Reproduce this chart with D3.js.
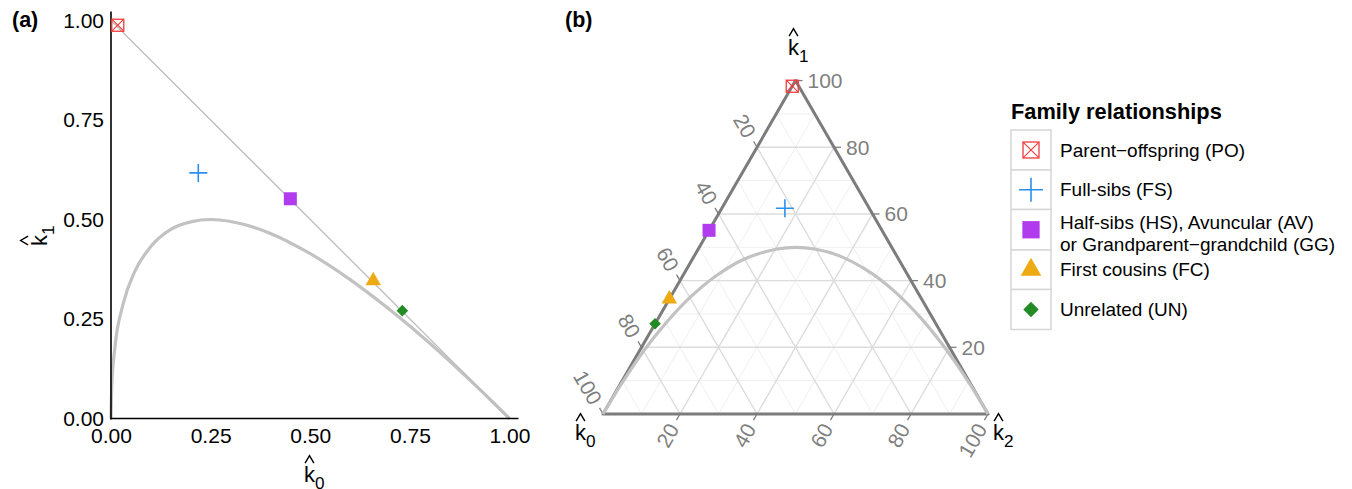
<!DOCTYPE html>
<html>
<head>
<meta charset="utf-8">
<script src="https://cdn.jsdelivr.net/npm/d3@7"></script>
<style>
body { margin: 0; background: #fff; }
text { font-family: "Liberation Sans", Arial, Helvetica, sans-serif; }
</style>
</head>
<body>
<div id="chart"></div>
<script>
// relationship estimates (k0, k1, k2)
var relNames = ["Parent\u2212offspring (PO)", "Full-sibs (FS)",
    "Half-sibs (HS), Avuncular (AV)|or Grandparent\u2212grandchild (GG)",
    "First cousins (FC)", "Unrelated (UN)"];
var relColors = ["#f23a3a", "#2a8ff0", "#b13ced", "#eeaa12", "#238b23"];
var relK0 = [0.017, 0.219, 0.450, 0.658, 0.731];
var relK1 = [0.988, 0.617, 0.552, 0.346, 0.271];
var relK2 = [0.000, 0.164, 0.000, 0.000, 0.000];

// boundary curve
var boundK0 = [0, 0.002, 0.01, 0.03, 0.06, 0.10, 0.15, 0.20, 0.25, 0.30, 0.40, 0.50, 0.60, 0.70, 0.80, 0.90, 0.95, 1];
var boundK1 = [0, 0.085, 0.18, 0.286, 0.37, 0.432, 0.475, 0.494, 0.50, 0.495, 0.465, 0.414, 0.349, 0.273, 0.189, 0.097, 0.049, 0];

// straight line k0 + k1 = 1
var lineK0 = [0, 1];
var lineK1 = [1, 0];

var ticksA = [0, 0.25, 0.5, 0.75, 1];
var ternTicks = [20, 40, 60, 80, 100];
var ternMajor = [0.2, 0.4, 0.6, 0.8];
var ternMinor = [0.1, 0.3, 0.5, 0.7, 0.9];

var W = 1352, H = 489;
var svg = d3.select("#chart").append("svg").attr("width", W).attr("height", H);

// k with a hat and a subscript
function hatLabel(g, sub, size) {
    var t = g.append("text").attr("font-size", size).attr("fill", "#000");
    t.append("tspan").text("k");
    t.append("tspan").attr("font-size", size * 0.78).attr("dy", size * 0.3).text(sub);
    var cx = size * 0.25, hw = size * 0.2;
    g.append("path")
        .attr("d", "M" + (cx - hw) + "," + (-size * 0.86) + "L" + cx + "," + (-size * 1.2) + "L" + (cx + hw) + "," + (-size * 0.86))
        .attr("fill", "none").attr("stroke", "#000").attr("stroke-width", 1.4);
}

function addMark(g, i, s) {
    var col = relColors[i];
    if (i === 0) {
        var h = 6 * s;
        g.append("rect").attr("x", -h).attr("y", -h).attr("width", 2 * h).attr("height", 2 * h)
            .attr("fill", "none").attr("stroke", col).attr("stroke-width", 1.3);
        g.append("path").attr("d", "M" + (-h) + "," + (-h) + "L" + h + "," + h + "M" + h + "," + (-h) + "L" + (-h) + "," + h)
            .attr("stroke", col).attr("stroke-width", 1.1);
    } else if (i === 1) {
        var a = 9 * s;
        g.append("path").attr("d", "M" + (-a) + ",0H" + a + "M0," + (-a) + "V" + a)
            .attr("stroke", col).attr("stroke-width", 1.6);
    } else if (i === 2) {
        var q = 6.5 * s;
        g.append("rect").attr("x", -q).attr("y", -q).attr("width", 2 * q).attr("height", 2 * q).attr("fill", col);
    } else if (i === 3) {
        var w = 15.5 * s, th = 13.5 * s;
        g.append("path").attr("d", "M0," + (-th * 2 / 3) + "L" + (w / 2) + "," + (th / 3) + "L" + (-w / 2) + "," + (th / 3) + "Z")
            .attr("fill", col);
    } else {
        var d = 5.8 * s;
        g.append("path").attr("d", "M0," + (-d) + "L" + d + ",0L0," + d + "L" + (-d) + ",0Z").attr("fill", col);
    }
}

// ---------- panel (a) ----------
var x = d3.scaleLinear().domain([0, 1.0225]).range([111, 518.5]);
var y = d3.scaleLinear().domain([0, 1.0225]).range([418.5, 11.5]);

var ga = svg.append("g");

ga.append("g").attr("transform", "translate(0,418.5)")
    .call(d3.axisBottom(x).tickValues(ticksA).tickFormat(d3.format(".2f")).tickSize(0).tickPadding(10))
    .call(g => g.select(".domain").remove())
    .selectAll("text").attr("font-size", 21).attr("fill", "#000").style("font-family", "'Liberation Sans', Arial, sans-serif");

ga.append("g").attr("transform", "translate(111,0)")
    .call(d3.axisLeft(y).tickValues(ticksA).tickFormat(d3.format(".2f")).tickSize(0).tickPadding(7))
    .call(g => g.select(".domain").remove())
    .selectAll("text").attr("font-size", 21).attr("fill", "#000").style("font-family", "'Liberation Sans', Arial, sans-serif");

var boundPts = boundK0.map((d, i) => [d, boundK1[i]]);
ga.append("path").datum(boundPts)
    .attr("d", d3.line().x(d => x(d[0])).y(d => y(d[1])).curve(d3.curveMonotoneX))
    .attr("fill", "none").attr("stroke", "#c2c2c2").attr("stroke-width", 3.2);

ga.append("path").datum(lineK0.map((d, i) => [d, lineK1[i]]))
    .attr("d", d3.line().x(d => x(d[0])).y(d => y(d[1])))
    .attr("fill", "none").attr("stroke", "#bdbdbd").attr("stroke-width", 1.3);

ga.append("line").attr("x1", x(0)).attr("x2", x(0)).attr("y1", y(0) + 1).attr("y2", y(1.0225))
    .attr("stroke", "#000").attr("stroke-width", 1.6);
ga.append("line").attr("x1", x(0) - 0.8).attr("x2", x(1.0225)).attr("y1", y(0)).attr("y2", y(0))
    .attr("stroke", "#000").attr("stroke-width", 1.6);

relK0.forEach(function (k, i) {
    addMark(ga.append("g").attr("transform", "translate(" + x(k) + "," + y(relK1[i]) + ")"), i, 1);
});

hatLabel(ga.append("g").attr("transform", "translate(304,482)"), "0", 22);
hatLabel(ga.append("g").attr("transform", "translate(47,246) rotate(-90)"), "1", 22);

svg.append("text").attr("x", 12).attr("y", 27).attr("font-size", 21.5).attr("font-weight", "bold").text("(a)");

// ---------- panel (b): ternary ----------
var triX0 = 603, triY0 = 414, side = 385;
var tS = d3.scaleLinear().domain([0, 1]).range([0, side]);
var r3 = Math.sqrt(3) / 2;
function tern(k0, k1, k2) {
    var s = k0 + k1 + k2;
    k1 = k1 / s; k2 = k2 / s;
    return [triX0 + tS(k2) + tS(k1) / 2, triY0 - tS(k1) * r3];
}

var gb = svg.append("g");

function gridLines(vals, col, wid) {
    vals.forEach(function (v) {
        var segs = [
            [tern(1 - v, v, 0), tern(0, v, 1 - v)],
            [tern(v, 1 - v, 0), tern(v, 0, 1 - v)],
            [tern(1 - v, 0, v), tern(0, 1 - v, v)]
        ];
        segs.forEach(function (s) {
            gb.append("line").attr("x1", s[0][0]).attr("y1", s[0][1]).attr("x2", s[1][0]).attr("y2", s[1][1])
                .attr("stroke", col).attr("stroke-width", wid);
        });
    });
}
gridLines(ternMinor, "#efefef", 1);
gridLines(ternMajor, "#dcdcdc", 1.4);

// ticks + labels
var tickLen = 7;
ternTicks.forEach(function (t) {
    var v = t / 100;
    // k1 on right edge
    var p = tern(0, v, 1 - v);
    gb.append("line").attr("x1", p[0]).attr("y1", p[1]).attr("x2", p[0] + tickLen).attr("y2", p[1])
        .attr("stroke", "#7f7f7f").attr("stroke-width", 1.3);
    gb.append("text").attr("x", p[0] + 12).attr("y", p[1]).attr("dy", "0.35em")
        .attr("font-size", 21).attr("fill", "#7f7f7f").text(t);
    // k0 on left edge
    p = tern(v, 1 - v, 0);
    gb.append("line").attr("x1", p[0]).attr("y1", p[1]).attr("x2", p[0] - tickLen * 0.5).attr("y2", p[1] - tickLen * r3)
        .attr("stroke", "#7f7f7f").attr("stroke-width", 1.3);
    var lx = p[0] - 13 * 0.5, ly = p[1] - 13 * r3;
    gb.append("text").attr("transform", "translate(" + lx + "," + ly + ") rotate(60)")
        .attr("text-anchor", "end").attr("dy", "0.35em")
        .attr("font-size", 21).attr("fill", "#7f7f7f").text(t);
    // k2 on bottom edge
    p = tern(1 - v, 0, v);
    gb.append("line").attr("x1", p[0]).attr("y1", p[1]).attr("x2", p[0] - tickLen * 0.5).attr("y2", p[1] + tickLen * r3)
        .attr("stroke", "#7f7f7f").attr("stroke-width", 1.3);
    lx = p[0] - 13 * 0.5; ly = p[1] + 13 * r3;
    gb.append("text").attr("transform", "translate(" + lx + "," + ly + ") rotate(-60)")
        .attr("text-anchor", "end").attr("dy", "0.35em")
        .attr("font-size", 21).attr("fill", "#7f7f7f").text(t);
});

// border
var vA = tern(1, 0, 0), vB = tern(0, 1, 0), vC = tern(0, 0, 1);
gb.append("path").attr("d", "M" + vA + "L" + vB + "L" + vC + "Z")
    .attr("fill", "none").attr("stroke", "#7c7c7c").attr("stroke-width", 3).attr("stroke-linejoin", "round");

gb.append("path").datum(boundPts)
    .attr("d", d3.line().x(d => tern(d[0], d[1], 1 - d[0] - d[1])[0]).y(d => tern(d[0], d[1], 1 - d[0] - d[1])[1]).curve(d3.curveCatmullRom))
    .attr("fill", "none").attr("stroke", "#c2c2c2").attr("stroke-width", 3.2);

relK0.forEach(function (k, i) {
    var p = tern(k, relK1[i], relK2[i]);
    addMark(gb.append("g").attr("transform", "translate(" + p[0] + "," + p[1] + ")"), i, 1);
});

hatLabel(gb.append("g").attr("transform", "translate(788,55)"), "1", 22);
hatLabel(gb.append("g").attr("transform", "translate(575,440)"), "0", 22);
hatLabel(gb.append("g").attr("transform", "translate(993,440)"), "2", 22);

svg.append("text").attr("x", 565).attr("y", 27).attr("font-size", 21.5).attr("font-weight", "bold").text("(b)");

// ---------- legend ----------
var gl = svg.append("g").attr("transform", "translate(1011,0)");
gl.append("text").attr("x", 0).attr("y", 118.5).attr("font-size", 21.8).attr("font-weight", "bold").text("Family relationships");

var rowH = [40, 39.5, 40.5, 39.5, 40];
var ry = 130;
relNames.forEach(function (name, i) {
    var h = rowH[i];
    gl.append("rect").attr("x", 0).attr("y", ry).attr("width", 40).attr("height", h)
        .attr("fill", "#fff").attr("stroke", "#d6d6d6").attr("stroke-width", 1.5);
    addMark(gl.append("g").attr("transform", "translate(20," + (ry + h / 2) + ")"), i, 1.33);
    var lines = name.split("|");
    var t = gl.append("text").attr("x", 49).attr("font-size", 19).attr("fill", "#000");
    var cy = ry + h / 2 + (lines.length > 1 ? 3.5 : 0);
    lines.forEach(function (ln, j) {
        t.append("tspan").attr("x", 49).attr("y", cy + (j - (lines.length - 1) / 2) * 22.5).attr("dy", "0.35em").text(ln);
    });
    ry += h;
});
</script>
</body>
</html>
